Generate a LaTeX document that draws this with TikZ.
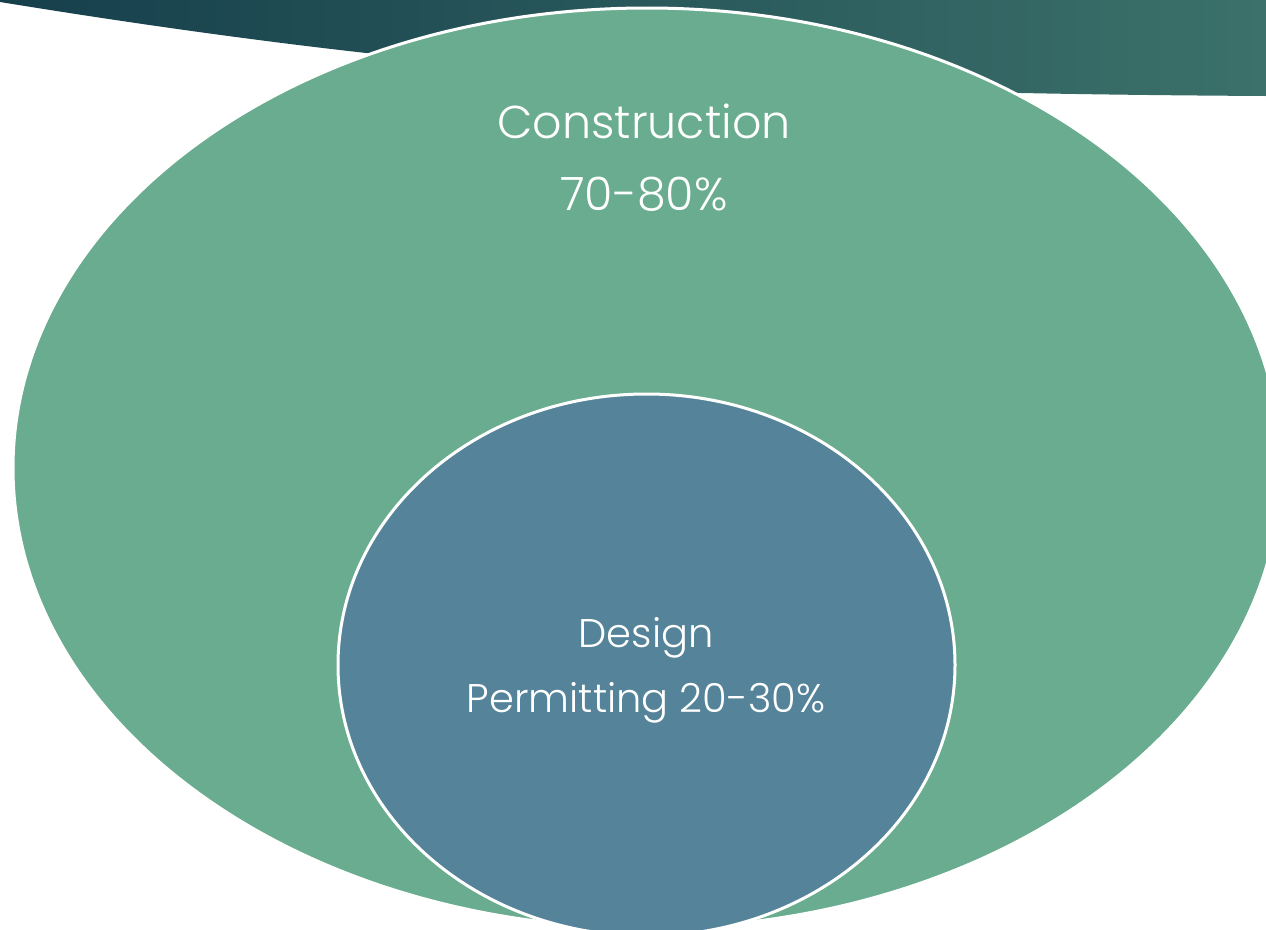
\documentclass[tikz,border=0pt]{standalone}
\usepackage{fontspec}
\setmainfont{Poppins}[UprightFont=* Light]
\usetikzlibrary{shapes.geometric}
\definecolor{bandL}{HTML}{163F4C}
\definecolor{bandR}{HTML}{3B716A}
\definecolor{outerfill}{HTML}{6AAC8F}
\definecolor{innerfill}{HTML}{55849A}
\tikzset{
  blob/.style={ellipse, draw=white, line width=3pt, inner sep=0pt},
  lbl/.style={text=white, align=center, inner sep=0pt},
}
\begin{document}
\begin{tikzpicture}[x=1pt,y=-1pt]
\useasboundingbox (0,0) rectangle (1266,929);
\begin{scope}
\clip (0,0) rectangle (1266,929);
\shade[left color=bandL, right color=bandR] (0,0) -- (0,2) .. controls (450,75) and (750,93) .. (1266,96) -- (1266,0) -- cycle;
\node[blob, fill=outerfill, minimum width=1268pt, minimum height=920pt] (outer) at (647,468) {};
\node[blob, fill=innerfill, minimum width=617pt, minimum height=542pt] (inner) at (646.5,665) {};
\end{scope}
\node[lbl, font=\fontsize{46}{72}\selectfont] (con) at (644,158) {Construction\\70-80\%};
\node[lbl, font=\fontsize{40}{65}\selectfont] (des) at (646,670) {Design\\Permitting 20-30\%};
\end{tikzpicture}
\end{document}
